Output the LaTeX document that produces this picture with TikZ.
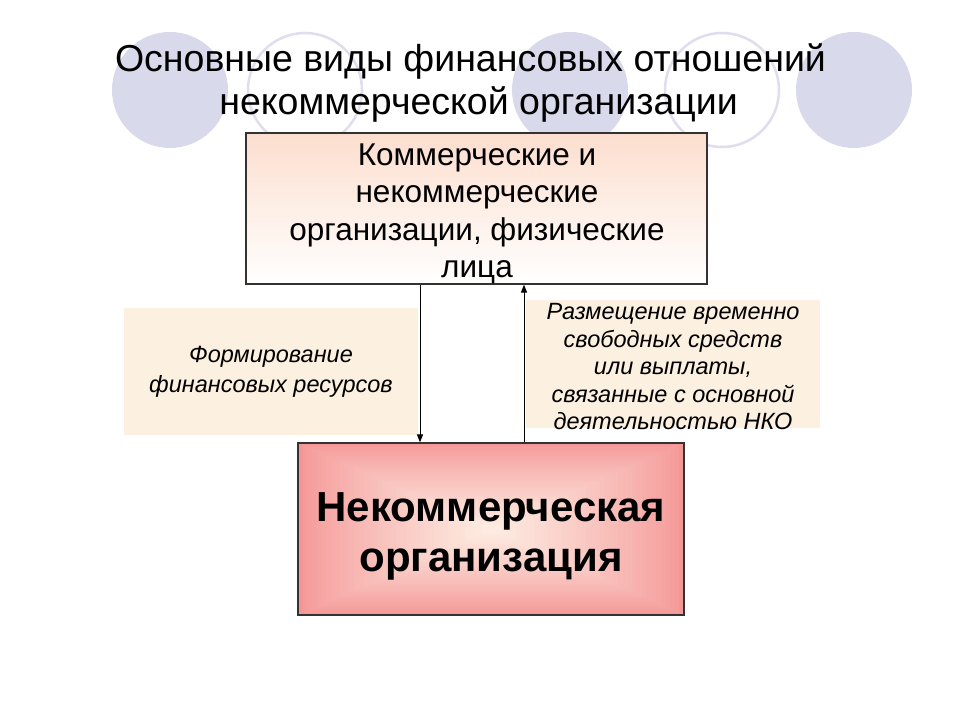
\documentclass[tikz,border=0pt]{standalone}
\usepackage{fontspec}
\setmainfont{Liberation Sans}
\usetikzlibrary{arrows.meta}
\definecolor{circfill}{RGB}{217,217,236}
\definecolor{circline}{RGB}{222,222,238}
\definecolor{toppeach}{RGB}{252,222,206}
\definecolor{labfill}{RGB}{252,240,224}
\definecolor{pinkout}{RGB}{244,150,150}
\definecolor{pinkin}{RGB}{253,234,224}
\begin{document}
\begin{tikzpicture}[x=1pt,y=-1pt,
  fcirc/.style={fill=circfill, draw=none},
  ocirc/.style={draw=circline, line width=2.5pt},
  ttl/.style={anchor=base, font=\fontsize{37.5}{43}\selectfont, inner sep=0},
  topbox/.style={draw=black!80, line width=1.2pt, top color=toppeach, bottom color=white, minimum width=461pt, minimum height=151pt},
  toptext/.style={align=center, inner sep=0pt, font=\fontsize{31.5}{37.5}\selectfont},
  labbox/.style={fill=labfill, draw=none, inner sep=0pt, align=center},
  nkobox/.style={draw=black!80, line width=1.2pt, minimum width=386pt, minimum height=172pt},
  nkotext/.style={align=center, inner sep=0pt, font=\bfseries\fontsize{42}{50}\selectfont},
  flow/.style={line width=1pt, -{Triangle[length=8pt,width=6pt]}}
]
\fill[white] (0,0) rectangle (960,720);
\useasboundingbox (0,0) rectangle (960,720);

% decorative circles
\fill[fcirc] (170,90) circle (58);
\draw[ocirc] (305,90) circle (57);
\fill[fcirc] (570,90) circle (58);
\draw[ocirc] (722,90) circle (57);
\fill[fcirc] (854,90) circle (58);

% title
\node[ttl] (t1) at (470.5,71) {Основные виды финансовых отношений};
\node[ttl] (t2) at (478.5,114) {некоммерческой организации};

% top box
\node[topbox] (top) at (476.5,208.5) {};
\node[toptext] (toptxt) at (477,214) {Коммерческие и\\некоммерческие\\организации, физические\\лица};

% label boxes
\node[labbox, minimum width=294pt, minimum height=127pt, font=\itshape\fontsize{23.5}{30}\selectfont] (lab1) at (271,371.5) {Формирование\\финансовых ресурсов};
\node[labbox, minimum width=294pt, minimum height=128pt] (lab2box) at (673,363.5) {};
\node[align=center, inner sep=0pt, font=\itshape\fontsize{23.5}{27.5}\selectfont] (lab2) at (673,367) {Размещение временно\\свободных средств\\или выплаты,\\связанные с основной\\деятельностью НКО};

% bottom box gradient
\foreach \i in {0,...,39} {
  \pgfmathsetmacro\t{0.97*\i/40}
  \pgfmathsetmacro\p{100*(\i/39)^0.8}
  \fill[pinkin!\p!pinkout] ({491-193*(1-\t)},{529-86*(1-\t)}) rectangle ({491+193*(1-\t)},{529+86*(1-\t)});
}
\node[nkobox] (nko) at (491,529) {};
\node[nkotext] (nkotxt) at (491,536) {Некоммерческая\\организация};

% connectors
\coordinate (xd) at (420,0);
\coordinate (xu) at (524,0);
\draw[flow] (top.south -| xd) -- (nko.north -| xd);
\draw[flow] (nko.north -| xu) -- (top.south -| xu);
\end{tikzpicture}
\end{document}
